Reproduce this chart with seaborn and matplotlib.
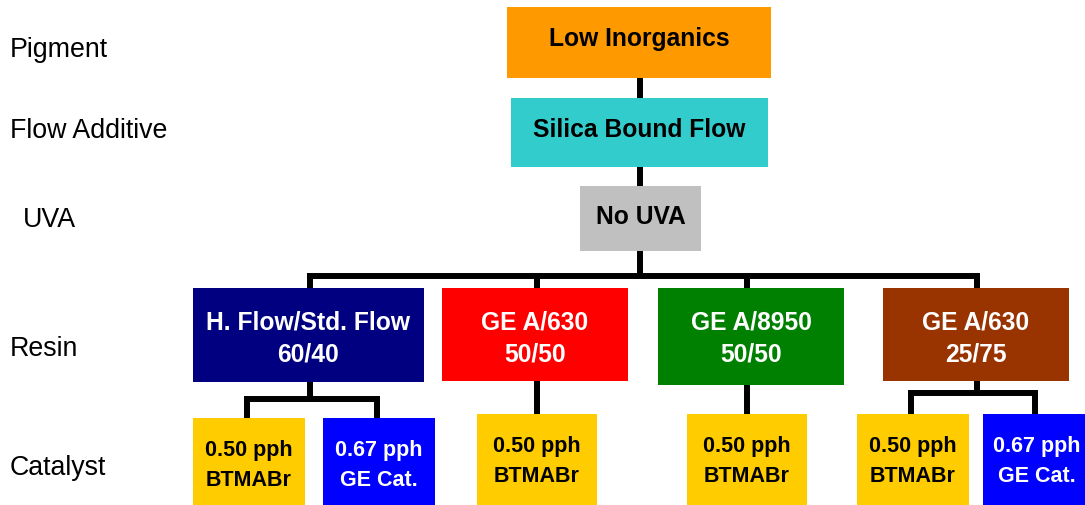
import matplotlib.pyplot as plt
import seaborn as sns
from matplotlib.patches import Rectangle

# ── content ──────────────────────────────────────────────
ROW_LABELS = ["Pigment", "Flow Additive", "UVA", "Resin", "Catalyst"]
PIGMENT = ["Low Inorganics"]
FLOW_ADDITIVE = ["Silica Bound Flow"]
UVA = ["No UVA"]
RESINS = [["H. Flow/Std. Flow", "60/40"],
          ["GE A/630", "50/50"],
          ["GE A/8950", "50/50"],
          ["GE A/630", "25/75"]]
CATALYSTS = [[["0.50 pph", "BTMABr"], ["0.67 pph", "GE Cat."]],
             [["0.50 pph", "BTMABr"]],
             [["0.50 pph", "BTMABr"]],
             [["0.50 pph", "BTMABr"], ["0.67 pph", "GE Cat."]]]

# ── layout (pixel space, y down) ─────────────────────────
LABEL_POS = [(10, 57), (10, 138), (23, 227), (10, 356), (10, 475)]
TOP_BOXES = [(507, 7, 771, 78), (511, 98, 768, 167), (580, 186, 701, 251)]
TOP_BASE = [46, 137, 224]
RESIN_BOXES = [(193, 288, 424, 382), (442, 288, 628, 381),
               (658, 288, 844, 385), (883, 288, 1069, 381)]
CAT_BOXES = [[(193, 418, 305, 505), (323, 418, 435, 505)],
             [(477, 414, 597, 505)],
             [(687, 414, 807, 505)],
             [(857, 414, 969, 505), (983, 414, 1090, 505)]]
BUS_Y = 276
SUB_BUS_Y = [399, None, None, 393]

COLORS = {"pigment": "#FF9900", "flow": "#33CCCC", "uva": "#C0C0C0"}
RESIN_COLORS = ["#000080", "#FF0000", "#008000", "#993300"]
CAT_COLORS = {"BTMABr": "#FFCC00", "GE Cat.": "#0000FF"}
CAT_TEXT = {"BTMABr": "black", "GE Cat.": "white"}
LW = 4.3

sns.set_theme(style="white")
plt.rcParams["font.family"] = ["Liberation Sans", "DejaVu Sans"]

fig = plt.figure(figsize=(10.85, 5.05), dpi=100)
ax = fig.add_axes([0, 0, 1, 1])
ax.set_xlim(0, 1085)
ax.set_ylim(505, 0)
ax.axis("off")


def line(xs, ys):
    ax.plot(xs, ys, color="black", lw=LW, solid_capstyle="projecting", zorder=1)


def box(b, color, lines, base, step, size, tcolor):
    x0, y0, x1, y1 = b
    ax.add_patch(Rectangle((x0, y0), x1 - x0, y1 - y0, facecolor=color,
                           edgecolor="none", zorder=2))
    cx = (x0 + x1) / 2
    for i, t in enumerate(lines):
        ax.text(cx, base + i * step, t, ha="center", va="baseline",
                fontsize=size, fontweight="bold", color=tcolor, zorder=3)


def cx(b):
    return (b[0] + b[2]) / 2


# row labels
for lab, (x, y) in zip(ROW_LABELS, LABEL_POS):
    ax.text(x, y, lab, ha="left", va="baseline", fontsize=19.3, color="black")

# trunk
trunk_x = cx(TOP_BOXES[0]) + 1
for upper, lower in zip(TOP_BOXES[:-1], TOP_BOXES[1:]):
    line([trunk_x, trunk_x], [upper[3], lower[1]])
line([trunk_x, trunk_x], [TOP_BOXES[-1][3], BUS_Y])

for b, lab, base, key in zip(TOP_BOXES, [PIGMENT, FLOW_ADDITIVE, UVA], TOP_BASE,
                             ["pigment", "flow", "uva"]):
    box(b, COLORS[key], lab, base, 0, 17.7, "black")

# resin bus
drop_x = []
for rb, cats in zip(RESIN_BOXES, CAT_BOXES):
    drop_x.append(cx(cats[0]) if len(cats) == 1 else cx(rb) + 1)
line([drop_x[0], drop_x[-1]], [BUS_Y, BUS_Y])
for dx, rb in zip(drop_x, RESIN_BOXES):
    line([dx, dx], [BUS_Y, rb[1]])

for rb, lab, col in zip(RESIN_BOXES, RESINS, RESIN_COLORS):
    box(rb, col, lab, rb[1] + 41, 32, 17.7, "white")

# catalysts
for rb, dx, cats, labs, sy in zip(RESIN_BOXES, drop_x, CAT_BOXES, CATALYSTS, SUB_BUS_Y):
    if sy is None:
        line([dx, dx], [rb[3], cats[0][1]])
    else:
        line([dx, dx], [rb[3], sy])
        xs = [cx(c) - 2 for c in cats]
        line([xs[0], xs[-1]], [sy, sy])
        for x, c in zip(xs, cats):
            line([x, x], [sy, c[1]])
    for c, lab in zip(cats, labs):
        box(c, CAT_COLORS[lab[1]], lab, c[1] + 38, 30, 15.5, CAT_TEXT[lab[1]])

fig.savefig("out.png", dpi=100, facecolor="white")
